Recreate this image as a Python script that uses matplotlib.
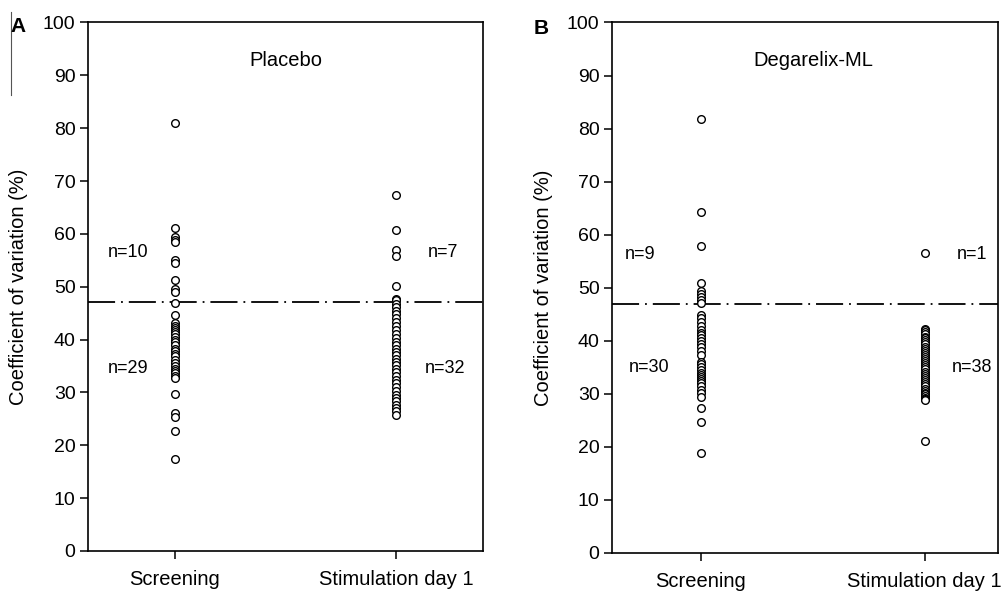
import matplotlib
matplotlib.use("Agg")
import matplotlib.pyplot as plt
from matplotlib.lines import Line2D

plt.rcParams['font.family'] = ['Liberation Sans', 'DejaVu Sans']

categories = ["Screening", "Stimulation day 1"]

placebo_screening = [81.0, 61.2, 59.4, 58.8, 58.4, 55.0, 54.4, 51.2, 49.6, 49.0,
                     46.9, 44.6, 43.1, 42.6, 42.2, 41.8, 41.4, 41.0, 40.5, 40.0,
                     39.5, 38.9, 38.3, 37.8, 37.3, 36.8, 36.2, 35.6, 35.0, 34.5,
                     34.0, 33.6, 33.2, 32.7, 29.7, 26.1, 25.4, 22.7, 17.4]
placebo_stim = [67.3, 60.7, 56.9, 55.8, 50.1, 47.7, 47.4,
                46.8, 46.2, 45.5, 44.8, 44.0, 43.3, 42.5, 41.8, 41.0, 40.3,
                39.6, 38.9, 38.2, 37.6, 37.0, 36.4, 35.8, 35.1, 34.4, 33.8,
                33.1, 32.4, 31.7, 31.0, 30.3, 29.6, 28.9, 28.3, 27.7, 27.0,
                26.4, 25.8]
degarelix_screening = [81.8, 64.2, 57.8, 50.8, 49.4, 48.9, 48.2, 47.6, 47.2,
                       44.9, 44.2, 43.5, 42.8, 42.0, 41.5, 41.0, 40.5, 40.0, 39.4,
                       38.8, 38.0, 37.4, 36.0, 35.6, 35.0, 34.5, 34.0, 33.6, 33.2,
                       32.8, 32.4, 32.0, 31.4, 30.8, 30.2, 29.4, 27.4, 24.7, 18.9]
degarelix_stim = [56.5,
                  42.3, 42.0, 41.6, 41.2, 40.8, 40.5, 40.1, 39.7, 39.3, 38.9,
                  38.5, 38.1, 37.7, 37.3, 37.0, 36.6, 36.2, 35.8, 35.4, 35.0,
                  34.6, 34.2, 33.8, 33.4, 33.0, 32.6, 32.2, 31.8, 31.4, 31.0,
                  30.6, 30.2, 29.9, 29.6, 29.3, 29.1, 28.9, 21.2]

threshold_placebo = 47.2
threshold_degarelix = 46.9

panel_titles = ["Placebo", "Degarelix-ML"]
panel_letters = ["A", "B"]
counts_placebo = ["n=10", "n=29", "n=7", "n=32"]
counts_degarelix = ["n=9", "n=30", "n=1", "n=38"]

fig = plt.figure(figsize=(10.01, 5.91), dpi=100)
axA = fig.add_axes([0.0879, 0.0677, 0.3946, 0.8943])
axB = fig.add_axes([0.6114, 0.0643, 0.3856, 0.8977])

panels = [
    (axA, placebo_screening, placebo_stim, threshold_placebo, counts_placebo,
     (0.607, 2.393), [(0.79, 56.5), (0.79, 34.6), (2.21, 56.5), (2.22, 34.6)]),
    (axB, degarelix_screening, degarelix_stim, threshold_degarelix, counts_degarelix,
     (0.603, 2.327), [(0.73, 56.3), (0.77, 35.0), (2.21, 56.3), (2.21, 35.0)]),
]

for i, (ax, s1, s2, thr, counts, xl, cpos) in enumerate(panels):
    ax.plot([1] * len(s1), s1, 'o', mfc='white', mec='black', ms=5.5, mew=1.0, zorder=3)
    ax.plot([2] * len(s2), s2, 'o', mfc='white', mec='black', ms=5.5, mew=1.0, zorder=3)
    ax.axhline(thr, color='black', lw=1.3, dashes=(15, 3.3, 1, 3.3), zorder=2)
    ax.set_xlim(*xl)
    ax.set_ylim(0, 100)
    ax.set_yticks(range(0, 101, 10))
    ax.set_xticks([1, 2])
    ax.set_xticklabels(categories)
    ax.tick_params(axis='both', direction='out', length=6, width=1.1, labelsize=14, pad=3)
    ax.tick_params(axis='x', labelsize=14.5, pad=8)
    for sp in ax.spines.values():
        sp.set_linewidth(1.2)
    ax.set_ylabel("Coefficient of variation (%)", fontsize=14.5)
    ax.yaxis.set_label_coords(-0.152, 0.5)
    ax.text(1.5, 92.8, panel_titles[i], ha='center', va='center', fontsize=14.5)
    for txt, (x, y) in zip(counts, cpos):
        ax.text(x, y, txt, ha='center', va='center', fontsize=13)

fig.text(0.010, 0.955, "A", fontsize=15, fontweight='bold', ha='left', va='center')
fig.text(0.533, 0.952, "B", fontsize=15, fontweight='bold', ha='left', va='center')
fig.add_artist(Line2D([0.0105, 0.0105], [0.98, 0.84], transform=fig.transFigure,
                      color='#555555', lw=0.8))

fig.savefig("out.png", dpi=100)
